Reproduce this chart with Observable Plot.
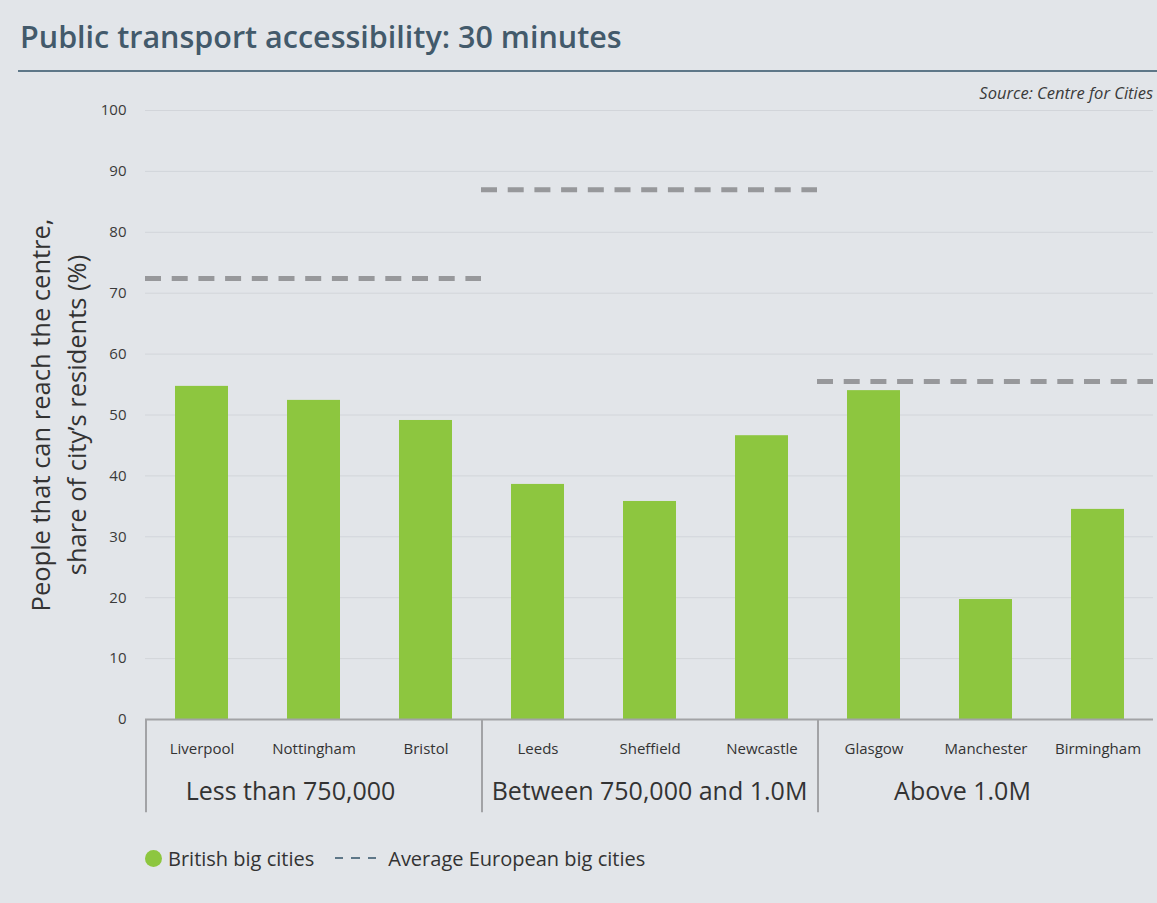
<!DOCTYPE html>
<html>
<head>
<meta charset="utf-8">
<script src="https://cdn.jsdelivr.net/npm/d3@7"></script>
<script src="https://cdn.jsdelivr.net/npm/@observablehq/plot@0.6"></script>
<style>
  html, body { margin: 0; padding: 0; background: #e2e5e9; }
  #wrap { position: relative; width: 1157px; height: 903px; background: #e2e5e9; font-family: "Open Sans", sans-serif; color: #333; overflow: hidden; }
  #title { position: absolute; left: 20px; top: 15px; font-size: 30.5px; font-weight: 600; color: #435a6b; white-space: nowrap; letter-spacing: 0px; }
  #rule { position: absolute; left: 18px; top: 70px; width: 1139px; height: 2px; background: #5e7788; }
  #source { position: absolute; right: 4px; top: 81px; font-size: 16.5px; font-style: italic; color: #3a3a3a; white-space: nowrap; }
  #chart { position: absolute; left: 0; top: 100px; }
  #legend { position: absolute; left: 145px; top: 845px; height: 26px; display: flex; align-items: center; font-size: 20px; color: #333; white-space: nowrap; }
  .dot { width: 17px; height: 17px; border-radius: 50%; background: #8dc63f; margin-right: 6px; }
  .dash { width: 41px; height: 0; border-top: 2.5px dashed #5e7788; margin: 0 12px 0 21px; border-image: repeating-linear-gradient(90deg, #5e7788 0 9px, transparent 9px 16px) 1; }
</style>
</head>
<body>
<div id="wrap">
  <div id="title">Public transport accessibility: 30 minutes</div>
  <div id="rule"></div>
  <div id="source">Source: Centre for Cities</div>
  <div id="chart"></div>
  <div id="legend"><div class="dot"></div><span>British big cities</span><div class="dash"></div><span>Average European big cities</span></div>
</div>
<script>
// ---- data ----
const groups = ["Less than 750,000", "Between 750,000 and 1.0M", "Above 1.0M"];
const cities = ["Liverpool", "Nottingham", "Bristol", "Leeds", "Sheffield", "Newcastle", "Glasgow", "Manchester", "Birmingham"];
const cityGroups = ["Less than 750,000", "Less than 750,000", "Less than 750,000",
  "Between 750,000 and 1.0M", "Between 750,000 and 1.0M", "Between 750,000 and 1.0M",
  "Above 1.0M", "Above 1.0M", "Above 1.0M"];
const britishValues = [54.7, 52.4, 49.1, 38.6, 35.8, 46.6, 54.0, 19.7, 34.5];
const europeanAverages = [72.4, 87.0, 55.5];
const yTicks = [0, 10, 20, 30, 40, 50, 60, 70, 80, 90, 100];
const yLabel = "People that can reach the centre,\nshare of city\u2019s residents (%)";

// ---- tables ----
const rows = cities.map((city, i) => ({
  city,
  group: cityGroups[i],
  pos: cities.filter((c, j) => j < i && cityGroups[j] === cityGroups[i]).length,
  value: britishValues[i]
}));
const avgRows = groups.map((g, i) => ({group: g, value: europeanAverages[i]}));

const W = 1157, ML = 145, MR = 4;
const facetW = (W - ML - MR) / groups.length;
const step = facetW / 3;

const chart = Plot.plot({
  width: W,
  height: 715,
  marginTop: 10,
  marginBottom: 96,
  marginLeft: ML,
  marginRight: MR,
  style: {background: "transparent", fontFamily: "Open Sans, sans-serif", fontSize: "15px", color: "#3a3a3a", overflow: "visible"},
  fx: {domain: groups, padding: 0, axis: null, label: null},
  x: {domain: [0, 1, 2], paddingInner: 0.53, paddingOuter: 0.265, axis: null},
  y: {domain: [0, 100], ticks: yTicks, tickSize: 0, tickPadding: 19, label: null},
  marks: [
    Plot.ruleY(yTicks.filter(t => t > 0), {stroke: "#d2d5da", strokeWidth: 1}),
    Plot.barY(rows, {fx: "group", x: "pos", y: "value", fill: "#8dc63f"}),
    Plot.ruleY(avgRows, {fx: "group", y: "value", stroke: "#97989b", strokeWidth: 5, strokeDasharray: "16,10.7"}),
    Plot.ruleY([0], {stroke: "#a2a3a6", strokeWidth: 2}),
    Plot.ruleX(groups, {fx: d => d, x: () => 0, dx: -step / 2, y1: 0, y2: -15.3, stroke: "#a2a3a6", strokeWidth: 2}),
    Plot.text(rows, {fx: "group", x: "pos", y: 0, text: "city", dy: 30, fontSize: 15, fill: "#333"}),
    ...groups.map((g, i) => Plot.text([g], {fx: () => g, text: d => d, frameAnchor: "bottom", lineAnchor: "middle", dy: 72, dx: i === 1 ? 0 : -23, fontSize: 25, fill: "#333"})),
    Plot.text([yLabel], {fx: () => groups[0], text: d => d, frameAnchor: "left", textAnchor: "middle", rotate: -90, dx: -89, lineAnchor: "middle", lineHeight: 1.4, fontSize: 25.5, fill: "#333"})
  ]
});
document.getElementById("chart").appendChild(chart);
</script>
</body>
</html>
